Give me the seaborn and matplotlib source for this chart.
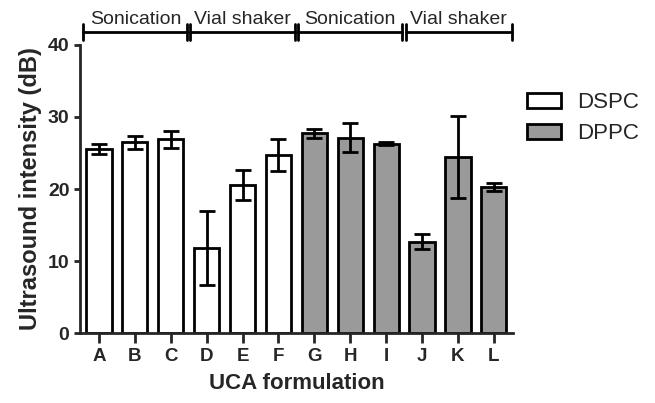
import pandas as pd
import seaborn as sns
import matplotlib.pyplot as plt
import numpy as np

sns.set_style("ticks")
plt.rcParams['font.family'] = ['Liberation Sans', 'DejaVu Sans']

formulations = ['A', 'B', 'C', 'D', 'E', 'F', 'G', 'H', 'I', 'J', 'K', 'L']
intensity = [25.5, 26.5, 26.9, 11.8, 20.6, 24.7, 27.7, 27.1, 26.3, 12.7, 24.4, 20.3]
errors = [0.7, 0.9, 1.2, 5.1, 2.1, 2.2, 0.6, 2.0, 0.2, 1.0, 5.7, 0.6]
lipids = ['DSPC'] * 6 + ['DPPC'] * 6
methods = ['Sonication', 'Vial shaker', 'Sonication', 'Vial shaker']


def make_chart():
    df = pd.DataFrame({'formulation': formulations, 'intensity': intensity,
                       'err': errors, 'lipid': lipids})

    fig = plt.figure(figsize=(6.55, 4.03), dpi=100)
    ax = fig.add_axes([0.122, 0.173, 0.661, 0.716])

    sns.barplot(x='formulation', y='intensity', hue='lipid', data=df, dodge=False,
                palette={'DSPC': 'white', 'DPPC': '#9a9a9a'}, edgecolor='black',
                linewidth=2, width=0.7, ax=ax)
    ax.errorbar(np.arange(len(formulations)), df['intensity'], yerr=df['err'],
                fmt='none', ecolor='black', elinewidth=2, capsize=6, capthick=2)

    ax.set_xlim(-0.53, 11.53)
    ax.set_ylim(0, 40)
    ax.set_yticks([0, 10, 20, 30, 40])
    sns.despine(ax=ax)
    ax.spines['left'].set_linewidth(2)
    ax.spines['bottom'].set_linewidth(2)
    ax.tick_params(axis='y', width=2, length=4, labelsize=14)
    ax.tick_params(axis='x', width=2, length=7, labelsize=13.5)
    for lab in ax.get_xticklabels() + ax.get_yticklabels():
        lab.set_fontweight('bold')
    ax.set_xlabel('UCA formulation', fontsize=16, fontweight='bold', labelpad=6)
    ax.set_ylabel('Ultrasound intensity (dB)', fontsize=17, fontweight='bold', labelpad=4)

    # method brackets above the plot
    kw = dict(color='black', lw=2, clip_on=False)
    yb = 41.8
    edges = [-0.45, 2.5, 5.5, 8.5, 11.5]
    for i, name in enumerate(methods):
        x0 = edges[i] + (0.05 if i > 0 else 0)
        x1 = edges[i + 1] - (0.05 if i < 3 else 0)
        ax.plot([x0, x1], [yb, yb], **kw)
        ax.text((edges[i] + edges[i + 1]) / 2, yb + 0.5, name, ha='center',
                va='bottom', fontsize=14)
    for i, e in enumerate(edges):
        if i in (0, 4):
            ax.plot([e, e], [yb - 1.1, yb + 1.1], **kw)
        else:
            for d in (-0.05, 0.05):
                ax.plot([e + d, e + d], [yb - 1.1, yb + 1.1], **kw)

    leg = ax.legend(loc='upper left', bbox_to_anchor=(0.986, 0.905), frameon=False,
                    fontsize=16, handlelength=1.55, handleheight=0.7,
                    handletextpad=0.7, labelspacing=0.45)
    for h in leg.legend_handles:
        h.set_linewidth(2)

    fig.savefig('out.png', dpi=100)


if __name__ == '__main__':
    make_chart()
